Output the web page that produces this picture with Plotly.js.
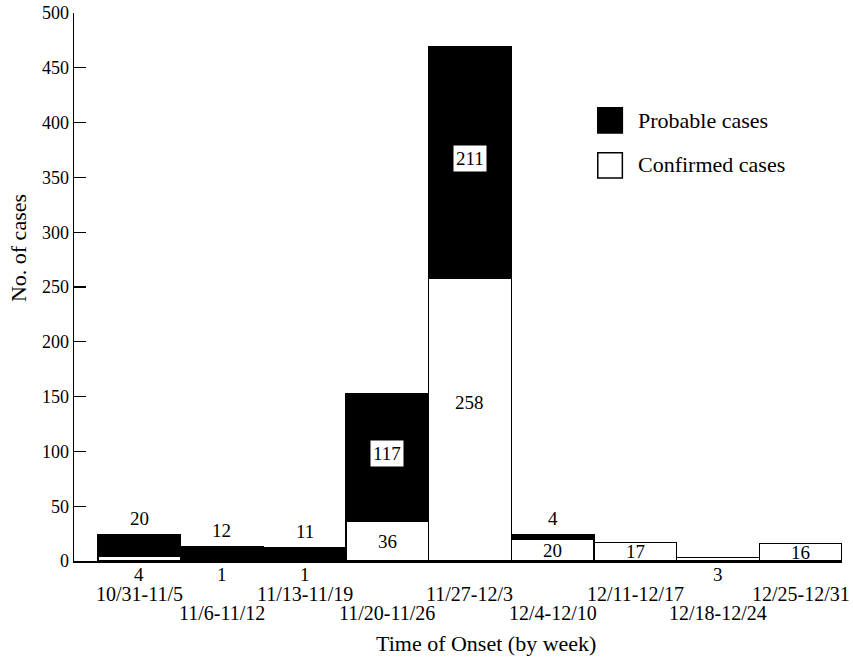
<!DOCTYPE html>
<html>
<head>
<meta charset="utf-8">
<script src="https://cdn.plot.ly/plotly-3.0.1.min.js"></script>
<style>html,body{margin:0;padding:0;background:#fff;}#chart{width:853px;height:658px;}</style>
</head>
<body>
<div id="chart"></div>
<script>
var weeks = ["10/31-11/5","11/6-11/12","11/13-11/19","11/20-11/26","11/27-12/3","12/4-12/10","12/11-12/17","12/18-12/24","12/25-12/31"];
var confirmed = [4, 1, 1, 36, 258, 20, 17, 3, 16];
var probable = [20, 12, 11, 117, 211, 4, 0, 0, 0];
var yTicks = [0, 50, 100, 150, 200, 250, 300, 350, 400, 450, 500];

var FONT = "Liberation Serif, Times New Roman, serif";
var idx = weeks.map(function(_, i){ return i; });

var traces = [
  {type:"bar", name:"Confirmed cases", x: idx, y: confirmed, width: 1,
   marker:{color:"#ffffff", line:{color:"#000", width:1.5}}, hoverinfo:"none"},
  {type:"bar", name:"Probable cases", x: idx, y: probable, width: 1,
   marker:{color:"#000000", line:{color:"#000", width:1.5}}, hoverinfo:"none"}
];

var ann = [];
idx.forEach(function(i){
  // week labels, staggered in two rows
  ann.push({x:i, y:0, xref:"x", yref:"y", text:weeks[i], showarrow:false,
    yanchor:"middle", yshift: (i % 2 === 0) ? -33 : -52, font:{family:FONT, size:20, color:"#000"}});
  var c = confirmed[i], p = probable[i];
  // confirmed labels
  if (c >= 15) {
    ann.push({x:i, y: (i===4 ? c*0.56 : c/2), xref:"x", yref:"y", text:String(c), showarrow:false,
      font:{family:FONT, size:19, color:"#000"}});
  } else {
    ann.push({x:i, y:0, xref:"x", yref:"y", text:String(c), showarrow:false, yanchor:"middle", yshift:-13,
      font:{family:FONT, size:19, color:"#000"}});
  }
  // probable labels
  if (p >= 50) {
    ann.push({x:i, y: c + p/2 + 4, xref:"x", yref:"y", text:String(p), showarrow:false,
      bgcolor:"#fff", borderpad:2, font:{family:FONT, size:19, color:"#000"}});
  } else if (p > 0) {
    ann.push({x:i, y: c + p, xref:"x", yref:"y", text:String(p), showarrow:false, yanchor:"bottom", yshift:4,
      font:{family:FONT, size:19, color:"#000"}});
  }
});

// axis titles
ann.push({x:0.536, xref:"paper", y:0, yref:"paper", yshift:-82, xanchor:"center", yanchor:"middle",
  text:"Time of Onset (by week)", showarrow:false, font:{family:FONT, size:22, color:"#000"}});
ann.push({x:0, xref:"paper", xshift:-56, y:0.571, yref:"paper", textangle:-90, xanchor:"center", yanchor:"middle",
  text:"No. of cases", showarrow:false, font:{family:FONT, size:22, color:"#000"}});

// legend
ann.push({x:0.732, y:0.803, xref:"paper", yref:"paper", text:"Probable cases", showarrow:false,
  xanchor:"left", yanchor:"middle", font:{family:FONT, size:22, color:"#000"}});
ann.push({x:0.732, y:0.723, xref:"paper", yref:"paper", text:"Confirmed cases", showarrow:false,
  xanchor:"left", yanchor:"middle", font:{family:FONT, size:22, color:"#000"}});

var shapes = [
  {type:"rect", xref:"paper", yref:"paper", x0:0.682, x1:0.714, y0:0.781, y1:0.827,
   fillcolor:"#000", line:{color:"#000", width:1.5}},
  {type:"rect", xref:"paper", yref:"paper", x0:0.682, x1:0.714, y0:0.699, y1:0.745,
   fillcolor:"#fff", line:{color:"#000", width:1.5}}
];

var layout = {
  width: 853, height: 658,
  margin: {l:74, r:11, t:13, b:97},
  paper_bgcolor:"#fff", plot_bgcolor:"#fff",
  barmode:"stack", bargap:0, showlegend:false,
  font:{family:FONT, size:18, color:"#000"},
  xaxis:{range:[-0.79, 8.5], showticklabels:false, ticks:"", showgrid:false, zeroline:false,
    showline:true, linecolor:"#000", linewidth:1.5, fixedrange:true},
  yaxis:{range:[0, 500], tickvals:yTicks, ticks:"inside", ticklen:12, tickwidth:1.2, tickcolor:"#000",
    showgrid:false, zeroline:false, showline:true, linecolor:"#000", linewidth:1.5, fixedrange:true,
    tickfont:{family:FONT, size:18, color:"#000"}},
  annotations: ann,
  shapes: shapes
};

Plotly.newPlot("chart", traces, layout, {displayModeBar:false, staticPlot:true});
</script>
</body>
</html>
